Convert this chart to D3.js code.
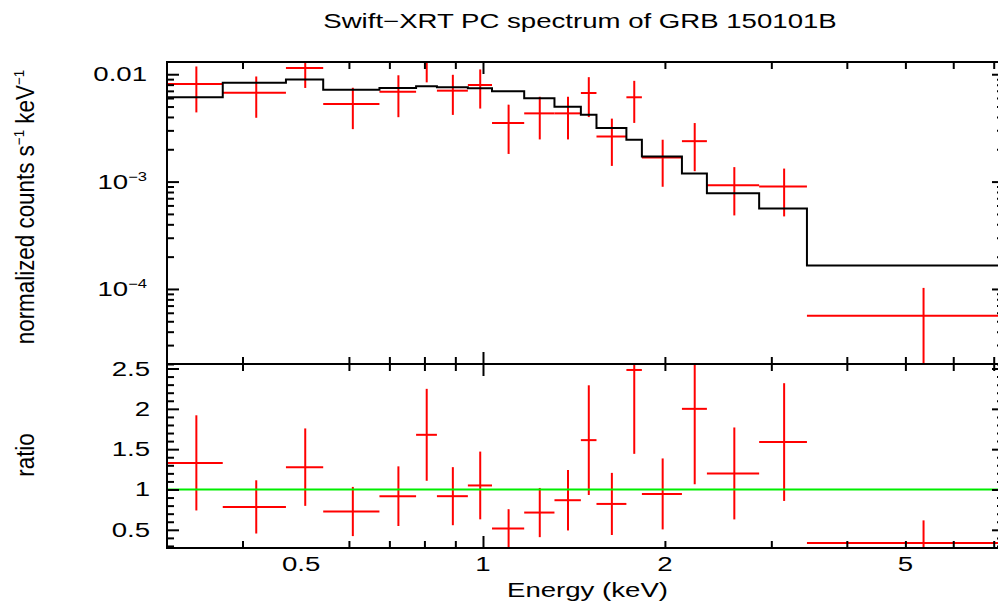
<!DOCTYPE html>
<html>
<head>
<meta charset="utf-8">
<script src="https://cdn.jsdelivr.net/npm/d3@7"></script>
<style>
  body { margin: 0; background: #fff; }
  svg { display: block; }
  text { font-family: "Liberation Sans", Arial, Helvetica, sans-serif; fill: #000; }
</style>
</head>
<body>
<svg id="chart" width="998" height="603"></svg>
<script>
// channel bins (keV)
const binLo = [0.300, 0.371, 0.472, 0.544, 0.674, 0.775, 0.839, 0.944, 1.035, 1.170,
               1.313, 1.452, 1.541, 1.727, 1.832, 2.134, 2.347, 2.864, 3.436];
const binHi = [0.371, 0.472, 0.544, 0.674, 0.775, 0.839, 0.944, 1.035, 1.170, 1.313,
               1.452, 1.541, 1.727, 1.832, 2.134, 2.347, 2.864, 3.436, 7.28];

// normalized counts s^-1 keV^-1
const counts = [8.11e-3, 6.73e-3, 11.45e-3, 5.28e-3, 6.88e-3, 13.1e-3, 7.03e-3, 7.94e-3, 3.51e-3, 4.32e-3,
                4.32e-3, 6.69e-3, 2.63e-3, 6.10e-3, 1.675e-3, 2.38e-3, 0.924e-3, 0.898e-3, 5.63e-5];
const countsErr = [3.7e-3, 2.8e-3, 4.0e-3, 2.2e-3, 2.9e-3, 4.7e-3, 2.85e-3, 3.15e-3, 1.7e-3, 1.85e-3,
                   1.85e-3, 2.7e-3, 1.23e-3, 2.58e-3, 0.78e-3, 1.13e-3, 0.44e-3, 0.424e-3, 4.6e-5];
const model = [6.10e-3, 8.34e-3, 8.91e-3, 7.18e-3, 7.45e-3, 7.72e-3, 7.56e-3, 7.40e-3, 6.93e-3, 5.97e-3,
               4.98e-3, 4.19e-3, 3.15e-3, 2.45e-3, 1.71e-3, 1.19e-3, 0.778e-3, 0.563e-3, 1.65e-4];

// data / model
const ratio = [1.33, 0.784, 1.277, 0.727, 0.917, 1.678, 0.917, 1.05, 0.516, 0.714,
               0.867, 1.612, 0.821, 2.482, 0.945, 2.0, 1.199, 1.588, 0.337];
const ratioErr = [0.59, 0.33, 0.48, 0.305, 0.37, 0.57, 0.36, 0.42, 0.24, 0.305,
                  0.375, 0.68, 0.385, 1.04, 0.44, 0.935, 0.57, 0.73, 0.28];

const xLabelTicks = [0.5, 1, 2, 5];
const countTicks = [{ v: 0.01, base: "0.01", sup: "" }, { v: 1e-3, base: "10", sup: "\u22123" }, { v: 1e-4, base: "10", sup: "\u22124" }];
const ratioLabelTicks = [0.5, 1, 1.5, 2, 2.5];

const SX = 1.38; // the plot text is stretched sideways
const svg = d3.select("#chart");

const pLeft = 167, pRight = 1004, pTop = 62, pMid = 364, pBottom = 548;

const x = d3.scaleLog().domain([0.3, 7.28]).range([pLeft, pRight]);
const yTop = d3.scaleLog().domain([2e-5, 0.013]).range([pMid, pTop]);
const yRat = d3.scaleLinear().domain([0.2745, 2.556]).range([pBottom, pMid]);

// clip areas
const defs = svg.append("defs");
defs.append("clipPath").attr("id", "clipTop").append("rect")
  .attr("x", pLeft).attr("y", pTop).attr("width", pRight - pLeft).attr("height", pMid - pTop);
defs.append("clipPath").attr("id", "clipBot").append("rect")
  .attr("x", pLeft).attr("y", pMid).attr("width", pRight - pLeft).attr("height", pBottom - pMid);

const bins = binLo.map((lo, i) => ({
  lo: lo, hi: binHi[i], mid: (lo + binHi[i]) / 2,
  c: counts[i], ce: countsErr[i], m: model[i], r: ratio[i], re: ratioErr[i]
}));

// ---- top panel: data + model
const gTop = svg.append("g").attr("clip-path", "url(#clipTop)");

const gData = gTop.append("g").attr("stroke", "#ff0000").attr("stroke-width", 2);
gData.selectAll("line.h").data(bins).join("line").attr("class", "h")
  .attr("x1", d => x(d.lo)).attr("x2", d => x(d.hi))
  .attr("y1", d => yTop(d.c)).attr("y2", d => yTop(d.c));
gData.selectAll("line.v").data(bins).join("line").attr("class", "v")
  .attr("x1", d => x(d.mid)).attr("x2", d => x(d.mid))
  .attr("y1", d => yTop(Math.max(d.c - d.ce, 1e-8))).attr("y2", d => yTop(d.c + d.ce));

const stepPts = [];
bins.forEach(d => { stepPts.push([d.lo, d.m]); stepPts.push([d.hi, d.m]); });
gTop.append("path")
  .datum(stepPts)
  .attr("fill", "none").attr("stroke", "#000").attr("stroke-width", 2)
  .attr("d", d3.line().x(d => x(d[0])).y(d => yTop(d[1])));

// ---- bottom panel: ratio
const gBot = svg.append("g").attr("clip-path", "url(#clipBot)");
const gRat = gBot.append("g").attr("stroke", "#ff0000").attr("stroke-width", 2);
gRat.selectAll("line.h").data(bins).join("line").attr("class", "h")
  .attr("x1", d => x(d.lo)).attr("x2", d => x(d.hi))
  .attr("y1", d => yRat(d.r)).attr("y2", d => yRat(d.r));
gRat.selectAll("line.v").data(bins).join("line").attr("class", "v")
  .attr("x1", d => x(d.mid)).attr("x2", d => x(d.mid))
  .attr("y1", d => yRat(d.r - d.re)).attr("y2", d => yRat(d.r + d.re));

gBot.append("line")
  .attr("x1", pLeft).attr("x2", pRight)
  .attr("y1", yRat(1)).attr("y2", yRat(1))
  .attr("stroke", "#00ee00").attr("stroke-width", 2);

// ---- ticks
const xMinor = [0.4, 0.6, 0.7, 0.8, 0.9, 2, 3, 4, 5, 6, 7];
const xMajor = [1];
const cMinor = [], cMajor = [1e-4, 1e-3, 1e-2];
[1e-5, 1e-4, 1e-3].forEach(p => { for (let k = 2; k <= 9; k++) if (p * k >= 2e-5 && p * k <= 0.013) cMinor.push(p * k); });
const rMinor = [], rMajor = ratioLabelTicks;
for (let k = 3; k <= 25; k++) if (k % 5 !== 0) rMinor.push(k / 10);

function ticks(axis, pos, vals, len) {
  const g = svg.append("g").attr("transform", pos)
    .call(axis.tickValues(vals).tickSize(-len).tickSizeOuter(0).tickFormat(""));
  g.select(".domain").remove();
  g.selectAll(".tick line").attr("stroke", "#000").attr("stroke-width", 2);
}
[[xMinor, 7], [xMajor, 12]].forEach(([vals, len]) => {
  ticks(d3.axisTop(x), `translate(0,${pTop})`, vals, len);
  ticks(d3.axisBottom(x), `translate(0,${pMid})`, vals, len);
  ticks(d3.axisTop(x), `translate(0,${pMid})`, vals, len);
  ticks(d3.axisBottom(x), `translate(0,${pBottom})`, vals, len);
});
[[cMinor, 7], [cMajor, 12]].forEach(([vals, len]) => {
  ticks(d3.axisLeft(yTop), `translate(${pLeft},0)`, vals, len);
  ticks(d3.axisRight(yTop), `translate(${pRight},0)`, vals, len);
});
[[rMinor, 7], [rMajor, 12]].forEach(([vals, len]) => {
  ticks(d3.axisLeft(yRat), `translate(${pLeft},0)`, vals, len);
  ticks(d3.axisRight(yRat), `translate(${pRight},0)`, vals, len);
});

// ---- frames
svg.append("rect").attr("x", pLeft).attr("y", pTop).attr("width", pRight - pLeft).attr("height", pMid - pTop)
  .attr("fill", "none").attr("stroke", "#000").attr("stroke-width", 2);
svg.append("rect").attr("x", pLeft).attr("y", pMid).attr("width", pRight - pLeft).attr("height", pBottom - pMid)
  .attr("fill", "none").attr("stroke", "#000").attr("stroke-width", 2);

// ---- text
function put(tx, ty, anchor, size, tf) {
  return svg.append("text")
    .attr("transform", `translate(${tx},${ty}) ${tf || `scale(${SX},1)`}`)
    .attr("text-anchor", anchor).attr("font-size", size);
}

put(580, 27.5, "middle", 20).text("Swift\u2212XRT PC spectrum of GRB 150101B");
put(587.5, 597, "middle", 20).text("Energy (keV)");

xLabelTicks.forEach(v => put(x(v), 571, "middle", 20).text(String(v)));

countTicks.forEach(t => {
  const tx = put(147, yTop(t.v) + 7, "end", 20);
  tx.append("tspan").text(t.base);
  if (t.sup) tx.append("tspan").attr("font-size", 12).attr("dy", -8).text(t.sup);
});

ratioLabelTicks.forEach(v => put(150, yRat(v) + 7, "end", 20).text(String(v)));

const yl = put(34, 207, "middle", 20, "rotate(-90) scale(1.12,1.25)");
yl.append("tspan").text("normalized counts s");
yl.append("tspan").attr("font-size", 12).attr("dy", -8).text("\u22121");
yl.append("tspan").attr("dy", 8).text(" keV");
yl.append("tspan").attr("font-size", 12).attr("dy", -8).text("\u22121");

put(34, 455, "middle", 20, "rotate(-90) scale(1.12,1.25)").text("ratio");
</script>
</body>
</html>
